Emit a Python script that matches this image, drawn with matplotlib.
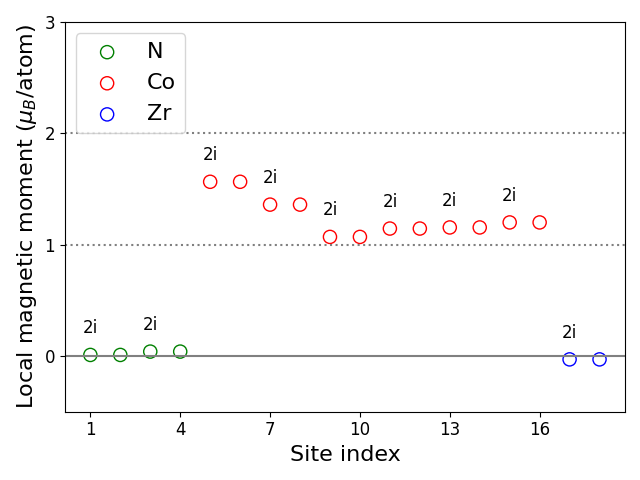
import numpy as np
import matplotlib
matplotlib.use('Agg')
import matplotlib.pyplot as plt

# Dados: momento magnetico local por sitio
sites_n = [1, 2, 3, 4]
mom_n = [0.01, 0.01, 0.04, 0.04]

sites_co = [5, 6, 7, 8, 9, 10, 11, 12, 13, 14, 15, 16]
mom_co = [1.565, 1.565, 1.36, 1.36, 1.07, 1.07, 1.145, 1.145, 1.155, 1.155, 1.20, 1.20]

sites_zr = [17, 18]
mom_zr = [-0.03, -0.03]

# Rotulos de Wyckoff (um por par)
wyck_sites = [1, 3, 5, 7, 9, 11, 13, 15, 17]
wyck_labels = ['2i'] * len(wyck_sites)

xticks = [1, 4, 7, 10, 13, 16]

fig, ax = plt.subplots(figsize=(6.4, 4.8))

ax.axhline(0, color='gray', lw=1.5)
ax.axhline(1, color='gray', ls=':', lw=1.5)
ax.axhline(2, color='gray', ls=':', lw=1.5)

ax.scatter(sites_n, mom_n, s=90, facecolors='none', edgecolors='green', label='N')
ax.scatter(sites_co, mom_co, s=90, facecolors='none', edgecolors='red', label='Co')
ax.scatter(sites_zr, mom_zr, s=90, facecolors='none', edgecolors='blue', label='Zr')

allsites = sites_n + sites_co + sites_zr
allmom = mom_n + mom_co + mom_zr
for s, lab in zip(wyck_sites, wyck_labels):
    m = max(allmom[allsites.index(s)], allmom[allsites.index(s + 1)])
    ax.text(s, m + 0.24, lab, ha='center', va='center', fontsize=12)

ax.set_ylim(-0.5, 3)
ax.set_yticks([0, 1, 2, 3])
ax.set_xticks(xticks)
ax.tick_params(labelsize=12)
ax.set_xlabel('Site index', fontsize=16)
ax.set_ylabel(r'Local magnetic moment ($\mu_B$/atom)', fontsize=16)
ax.legend(loc='upper left', fontsize=16)

plt.tight_layout()
plt.savefig('out.png', dpi=100)
